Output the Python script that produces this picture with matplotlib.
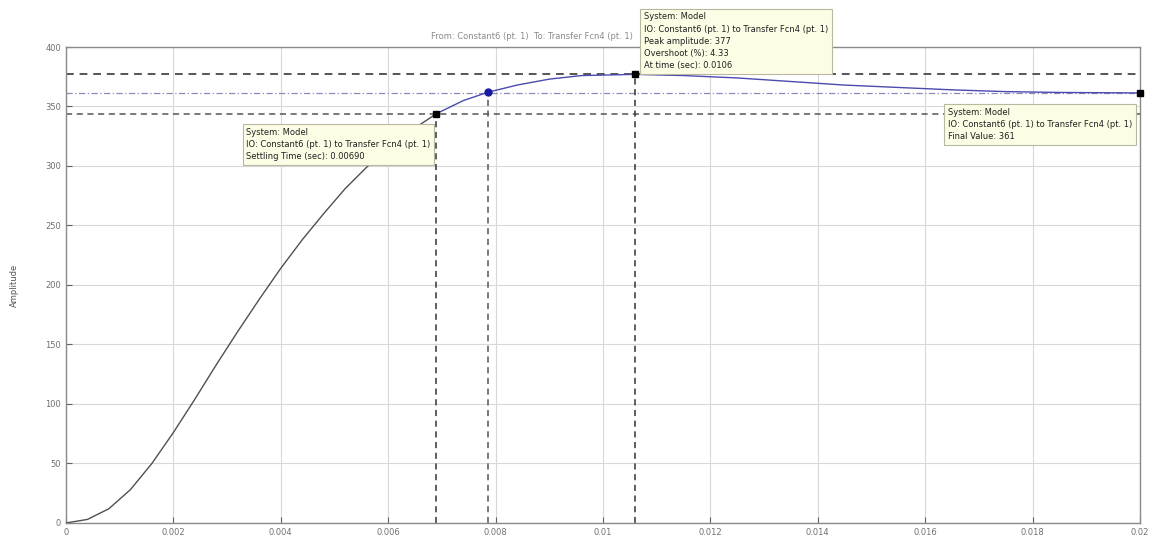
import matplotlib
matplotlib.use("Agg")
import matplotlib.pyplot as plt

# Step response samples (time in seconds, amplitude)
time_s = [0.0, 0.0004, 0.0008, 0.0012, 0.0016, 0.0020, 0.0024, 0.0028, 0.0032,
          0.0036, 0.0040, 0.0044, 0.0048, 0.0052, 0.0056, 0.0060, 0.0064,
          0.0069, 0.0074, 0.00786, 0.0084, 0.0090, 0.0096, 0.0106, 0.0115,
          0.0125, 0.0135, 0.0145, 0.0155, 0.0165, 0.0175, 0.0185, 0.0200]
amplitude = [0, 3, 12, 28, 50, 76, 104, 133, 161,
             188, 214, 238, 260, 281, 299, 315, 329,
             344, 355, 362, 368, 373, 376, 377, 376,
             374, 371, 368, 366, 364, 362.5, 361.8, 361.4]

# Response characteristics
settling_time = 0.0069
settling_value = 344
rise_marker_time = 0.00786
rise_marker_value = 362
peak_time = 0.0106
peak_value = 377
overshoot_pct = 4.33
final_value = 361.4
final_time = 0.02
settling_band = 343.3

x_ticks = [0, 0.002, 0.004, 0.006, 0.008, 0.01, 0.012, 0.014, 0.016, 0.018, 0.02]
x_tick_labels = ["0", "0.002", "0.004", "0.006", "0.008", "0.01", "0.012",
                 "0.014", "0.016", "0.018", "0.02"]
y_ticks = [0, 50, 100, 150, 200, 250, 300, 350, 400]

io_text = "IO: Constant6 (pt. 1) to Transfer Fcn4 (pt. 1)"

fig = plt.figure(figsize=(11.57, 5.39), dpi=100)
ax = fig.add_axes([0.057, 0.0297, 0.9283, 0.8831])

ax.set_xlim(0, 0.02)
ax.set_ylim(0, 400)
ax.set_xticks(x_ticks)
ax.set_xticklabels(x_tick_labels)
ax.set_yticks(y_ticks)
ax.tick_params(direction="in", labelsize=6, colors="#606060", length=4)
for lbl in ax.get_xticklabels() + ax.get_yticklabels():
    lbl.set_color("#707070")
ax.grid(True, color="#d8d8d8", linewidth=0.8)
for sp in ax.spines.values():
    sp.set_color("#8a8a8a")
    sp.set_linewidth(1.0)

# Title sits left of the peak data tip so it stays readable
ax.text(0.01055, 1.012, "From: Constant6 (pt. 1)  To: Transfer Fcn4 (pt. 1)",
        transform=ax.get_xaxis_transform(), ha="right", va="bottom",
        fontsize=6, color="#8a8a8a")
ax.set_ylabel("Amplitude", fontsize=6, color="#505050")
ax.yaxis.set_label_coords(-0.044, 0.5)

# Horizontal reference levels
ax.axhline(peak_value, color="#555555", linestyle=(0, (4, 3)), linewidth=1.4, zorder=2)
ax.axhline(final_value, color="#8a8ab8", linestyle=(0, (5, 2, 1, 2)), linewidth=0.9, zorder=2)
ax.axhline(settling_band, color="#555555", linestyle=(0, (4, 3)), linewidth=1.1, zorder=2)

# Vertical markers down to the time axis
for t, v, c in [(settling_time, settling_value, "#333333"),
                (rise_marker_time, rise_marker_value, "#555555"),
                (peak_time, peak_value, "#333333")]:
    ax.plot([t, t], [0, v], color=c, linestyle=(0, (4, 3)), linewidth=1.1, zorder=2)

# Response curve: dark before settling, blue afterwards
split = time_s.index(settling_time)
ax.plot(time_s[:split + 1], amplitude[:split + 1], color="#505050", linewidth=1.0, zorder=3)
ax.plot(time_s[split:], amplitude[split:], color="#4a4ab0", linewidth=1.0, zorder=3)

# Characteristic points
ax.plot([settling_time], [settling_value], "s", color="black", markersize=5, zorder=5)
ax.plot([rise_marker_time], [rise_marker_value], "o", color="#1a1aa0", markersize=5, zorder=5)
ax.plot([peak_time], [peak_value], "s", color="black", markersize=5, zorder=5)
ax.plot([final_time], [final_value], "s", color="black", markersize=5, zorder=5,
        clip_on=False)

box = dict(boxstyle="square,pad=0.45", facecolor="#fdfde6", edgecolor="#b8b8a0",
           linewidth=0.8)
tkw = dict(fontsize=6, color="#202020", linespacing=1.45, zorder=6,
           annotation_clip=False, bbox=box, ha="left", va="top",
           textcoords="offset pixels")

ax.annotate("System: Model\n" + io_text + "\nSettling Time (sec): %.5f" % settling_time,
            xy=(settling_time, settling_value), xytext=(-190, -14), **tkw)
ax.annotate("System: Model\n" + io_text + "\nPeak amplitude: %d\nOvershoot (%%): %.2f\nAt time (sec): %.4f"
            % (peak_value, overshoot_pct, peak_time),
            xy=(peak_time, peak_value), xytext=(9, 62), **tkw)
ax.annotate("System: Model\n" + io_text + "\nFinal Value: %d" % round(final_value),
            xy=(final_time, final_value), xytext=(-192, -15), **tkw)

fig.savefig("out.png", dpi=100)
